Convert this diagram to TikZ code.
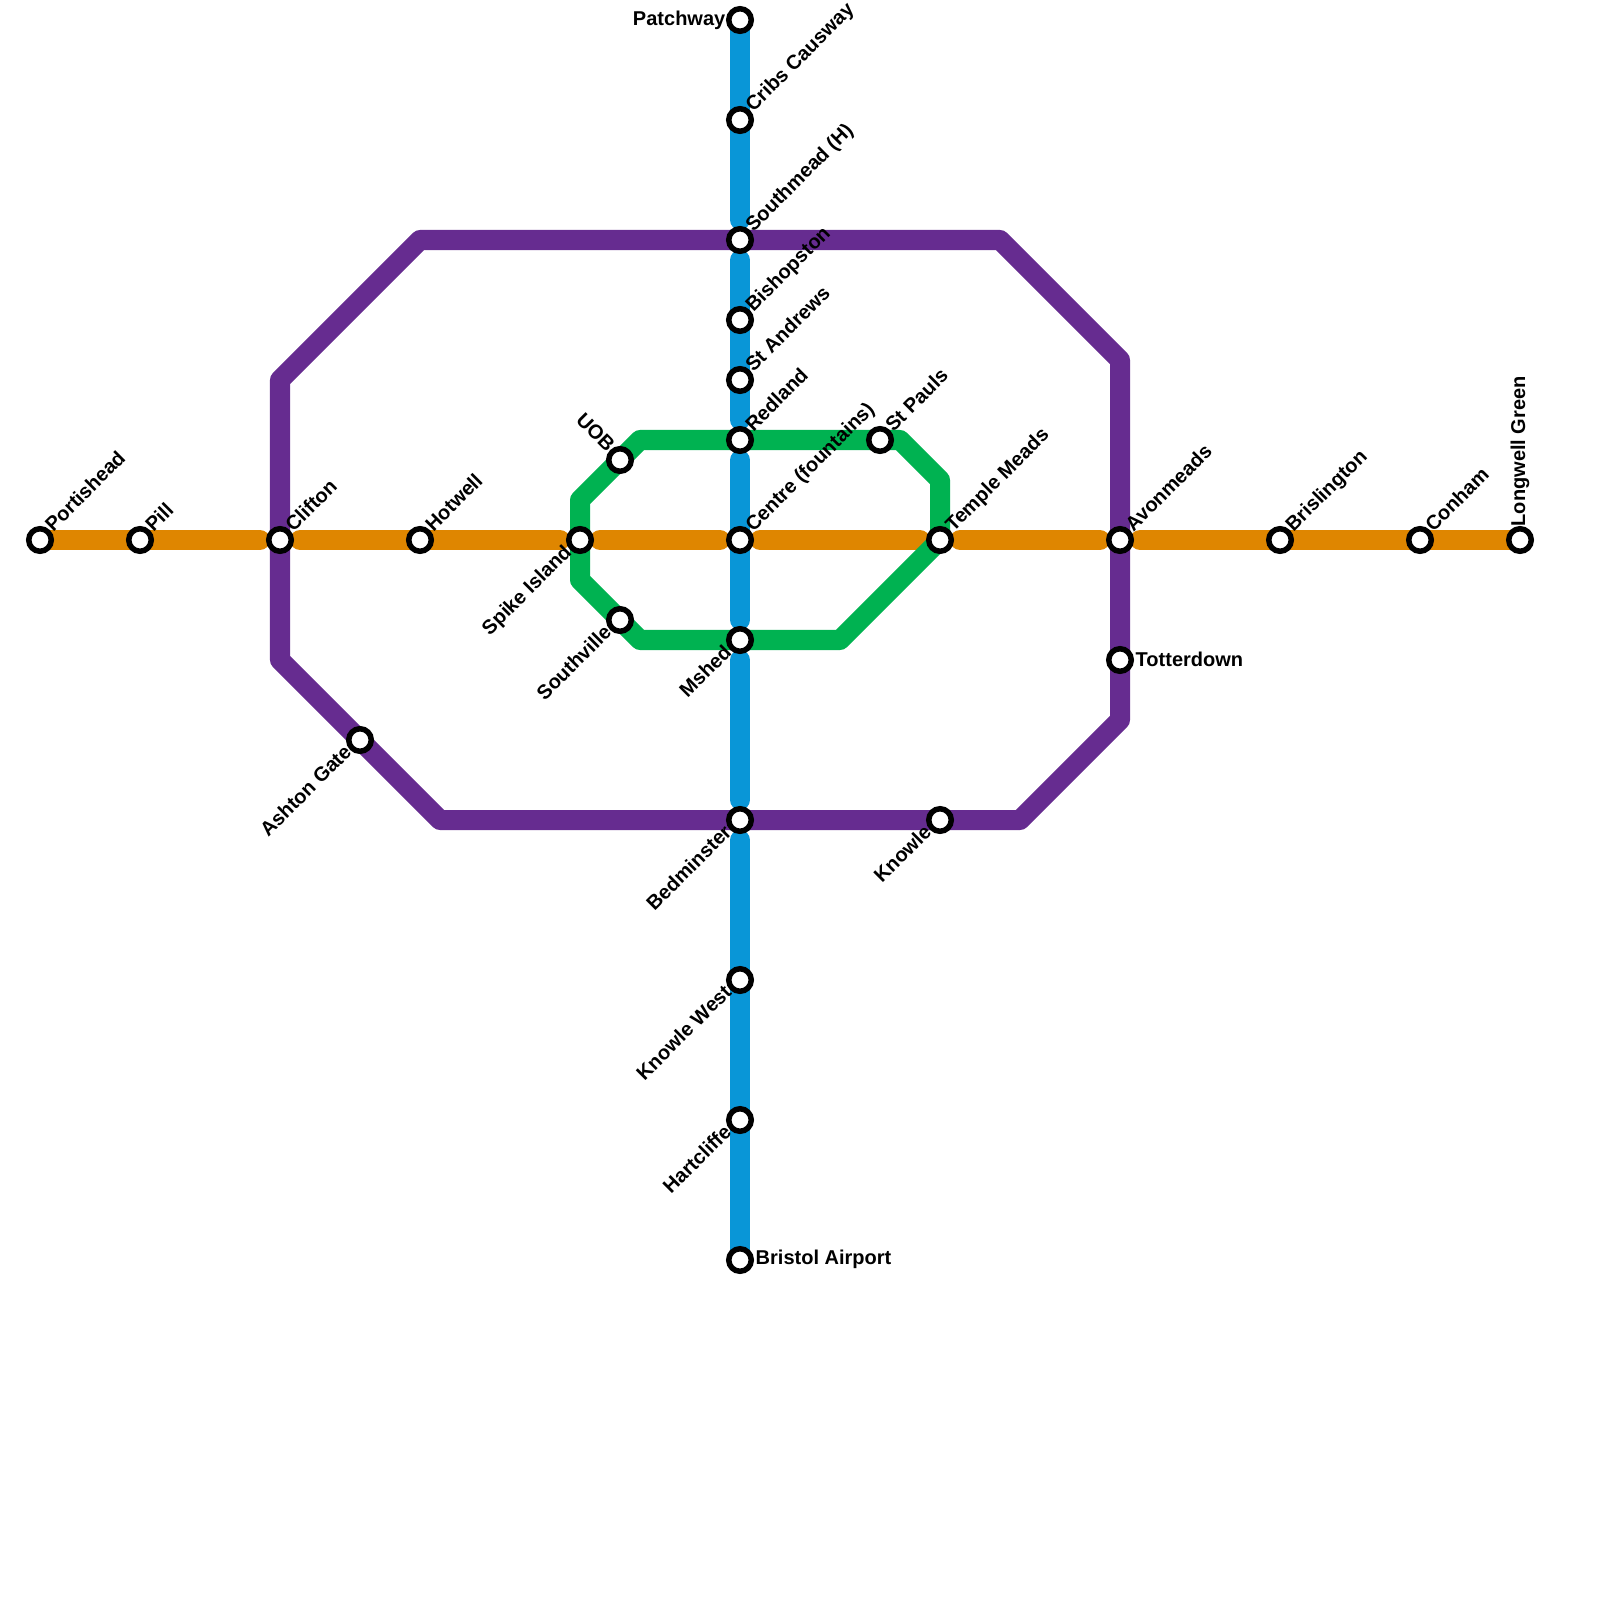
\documentclass[tikz,border=0pt]{standalone}
\usepackage{fontspec}
\setmainfont{Liberation Sans}
\usetikzlibrary{backgrounds}
\definecolor{lineorange}{RGB}{223,134,0}
\definecolor{lineblue}{RGB}{9,150,215}
\definecolor{linepurple}{RGB}{102,44,144}
\definecolor{linegreen}{RGB}{0,178,81}

\begin{document}
\begin{tikzpicture}[
    x=0.01cm,y=-0.01cm,
    stn/.style={circle,draw=black,fill=white,line width=0.055cm,minimum size=0.225cm,inner sep=0pt},
    metro/.style={line width=0.2cm,line cap=round,line join=round},
    lbl/.style={font=\fontsize{5.69}{6}\selectfont\bfseries,inner sep=0pt},
    lblne/.style={lbl,shift={(13,-7)},rotate=45,anchor=base west},
    lblsw/.style={lbl,shift={(-7,13)},rotate=45,anchor=base east},
    lblnw/.style={lbl,shift={(-13,-7)},rotate=-45,anchor=base east},
    lblw/.style={lbl,shift={(-14,0)},anchor=east},
    lble/.style={lbl,shift={(15,-1)},anchor=west},
    lbln/.style={lbl,shift={(5,-13)},rotate=90,anchor=base west},
    gapa/.style={shorten <=0.2cm},
    gapb/.style={shorten >=0.2cm}
]
  \useasboundingbox (0,0) rectangle (1600,1600);

  % Orange line stations
  \node[stn] (portishead) at (40,540) {};
  \node[stn] (pill) at (140,540) {};
  \node[stn] (clifton) at (280,540) {};
  \node[stn] (hotwell) at (420,540) {};
  \node[stn] (spike) at (580,540) {};
  \node[stn] (centre) at (740,540) {};
  \node[stn] (temple) at (940,540) {};
  \node[stn] (avonmeads) at (1120,540) {};
  \node[stn] (brislington) at (1280,540) {};
  \node[stn] (conham) at (1420,540) {};
  \node[stn] (longwell) at (1520,540) {};

  % Blue line stations
  \node[stn] (patchway) at (740,20) {};
  \node[stn] (cribs) at (740,120) {};
  \node[stn] (southmead) at (740,240) {};
  \node[stn] (bishopston) at (740,320) {};
  \node[stn] (standrews) at (740,380) {};
  \node[stn] (redland) at (740,440) {};
  \node[stn] (mshed) at (740,640) {};
  \node[stn] (bedminster) at (740,820) {};
  \node[stn] (knowlewest) at (740,980) {};
  \node[stn] (hartcliffe) at (740,1120) {};
  \node[stn] (airport) at (740,1260) {};

  % Purple and green line stations
  \node[stn] (ashton) at (360,740) {};
  \node[stn] (knowle) at (940,820) {};
  \node[stn] (totterdown) at (1120,660) {};
  \node[stn] (uob) at (620,460) {};
  \node[stn] (southville) at (620,620) {};
  \node[stn] (stpauls) at (880,440) {};

  % Bends
  \coordinate (pa) at (280,380);
  \coordinate (pb) at (420,240);
  \coordinate (pc) at (1000,240);
  \coordinate (pd) at (1120,360);
  \coordinate (pe) at (1120,720);
  \coordinate (pf) at (1020,820);
  \coordinate (pg) at (440,820);
  \coordinate (ph) at (280,660);
  \coordinate (ga) at (580,500);
  \coordinate (gb) at (640,440);
  \coordinate (gc) at (900,440);
  \coordinate (gd) at (940,480);
  \coordinate (ge) at (840,640);
  \coordinate (gf) at (640,640);
  \coordinate (gg) at (580,580);

  % Lines
  \begin{scope}[on background layer]
    \draw[metro,lineorange,gapb] (portishead.center) -- (pill.center) -- (clifton.center);
    \draw[metro,lineorange,gapa,gapb] (clifton.center) -- (hotwell.center) -- (spike.center);
    \draw[metro,lineorange,gapa,gapb] (spike.center) -- (centre.center);
    \draw[metro,lineorange,gapa,gapb] (centre.center) -- (temple.center);
    \draw[metro,lineorange,gapa,gapb] (temple.center) -- (avonmeads.center);
    \draw[metro,lineorange,gapa] (avonmeads.center) -- (brislington.center) -- (conham.center) -- (longwell.center);

    \draw[metro,linepurple] (pa) -- (pb) -- (southmead.center) -- (pc) -- (pd) -- (avonmeads.center) -- (totterdown.center) -- (pe) -- (pf) -- (knowle.center) -- (bedminster.center) -- (pg) -- (ashton.center) -- (ph) -- (clifton.center) -- cycle;
    \draw[metro,linegreen] (ga) -- (gb) -- (redland.center) -- (stpauls.center) -- (gc) -- (gd) -- (temple.center) -- (ge) -- (mshed.center) -- (gf) -- (gg) -- (spike.center) -- cycle;

    \draw[metro,lineblue,gapb] (patchway.center) -- (cribs.center) -- (southmead.center);
    \draw[metro,lineblue,gapa,gapb] (southmead.center) -- (bishopston.center) -- (standrews.center) -- (redland.center);
    \draw[metro,lineblue,gapa,gapb] (redland.center) -- (centre.center) -- (mshed.center);
    \draw[metro,lineblue,gapa,gapb] (mshed.center) -- (bedminster.center);
    \draw[metro,lineblue,gapa] (bedminster.center) -- (knowlewest.center) -- (hartcliffe.center) -- (airport.center);
  \end{scope}

  % Labels
  \node[lblne] (portisheadl) at (portishead) {Portishead};
  \node[lblne] (pilll) at (pill) {Pill};
  \node[lblne] (cliftonl) at (clifton) {Clifton};
  \node[lblne] (hotwelll) at (hotwell) {Hotwell};
  \node[lblne] (centrel) at (centre) {Centre (fountains)};
  \node[lblne] (templel) at (temple) {Temple Meads};
  \node[lblne] (avonmeadsl) at (avonmeads) {Avonmeads};
  \node[lblne] (brislingtonl) at (brislington) {Brislington};
  \node[lblne] (conhaml) at (conham) {Conham};
  \node[lbln] (longwelll) at (longwell) {Longwell Green};
  \node[lblsw] (spikel) at (spike) {Spike Island};

  \node[lblw] (patchwayl) at (patchway) {Patchway};
  \node[lblne] (cribsl) at (cribs) {Cribs Causway};
  \node[lblne] (southmeadl) at (southmead) {Southmead (H)};
  \node[lblne] (bishopstonl) at (bishopston) {Bishopston};
  \node[lblne] (standrewsl) at (standrews) {St Andrews};
  \node[lblne] (redlandl) at (redland) {Redland};
  \node[lblsw] (mshedl) at (mshed) {Mshed};
  \node[lblsw] (bedminsterl) at (bedminster) {Bedminster};
  \node[lblsw] (knowlewestl) at (knowlewest) {Knowle West};
  \node[lblsw] (hartcliffel) at (hartcliffe) {Hartcliffe};
  \node[lble] (airportl) at (airport) {Bristol Airport};

  \node[lblsw] (ashtonl) at (ashton) {Ashton Gate};
  \node[lblsw] (knowlel) at (knowle) {Knowle};
  \node[lble] (totterdownl) at (totterdown) {Totterdown};
  \node[lblnw] (uobl) at (uob) {UOB};
  \node[lblsw] (southvillel) at (southville) {Southville};
  \node[lblne] (stpaulsl) at (stpauls) {St Pauls};
\end{tikzpicture}
\end{document}
